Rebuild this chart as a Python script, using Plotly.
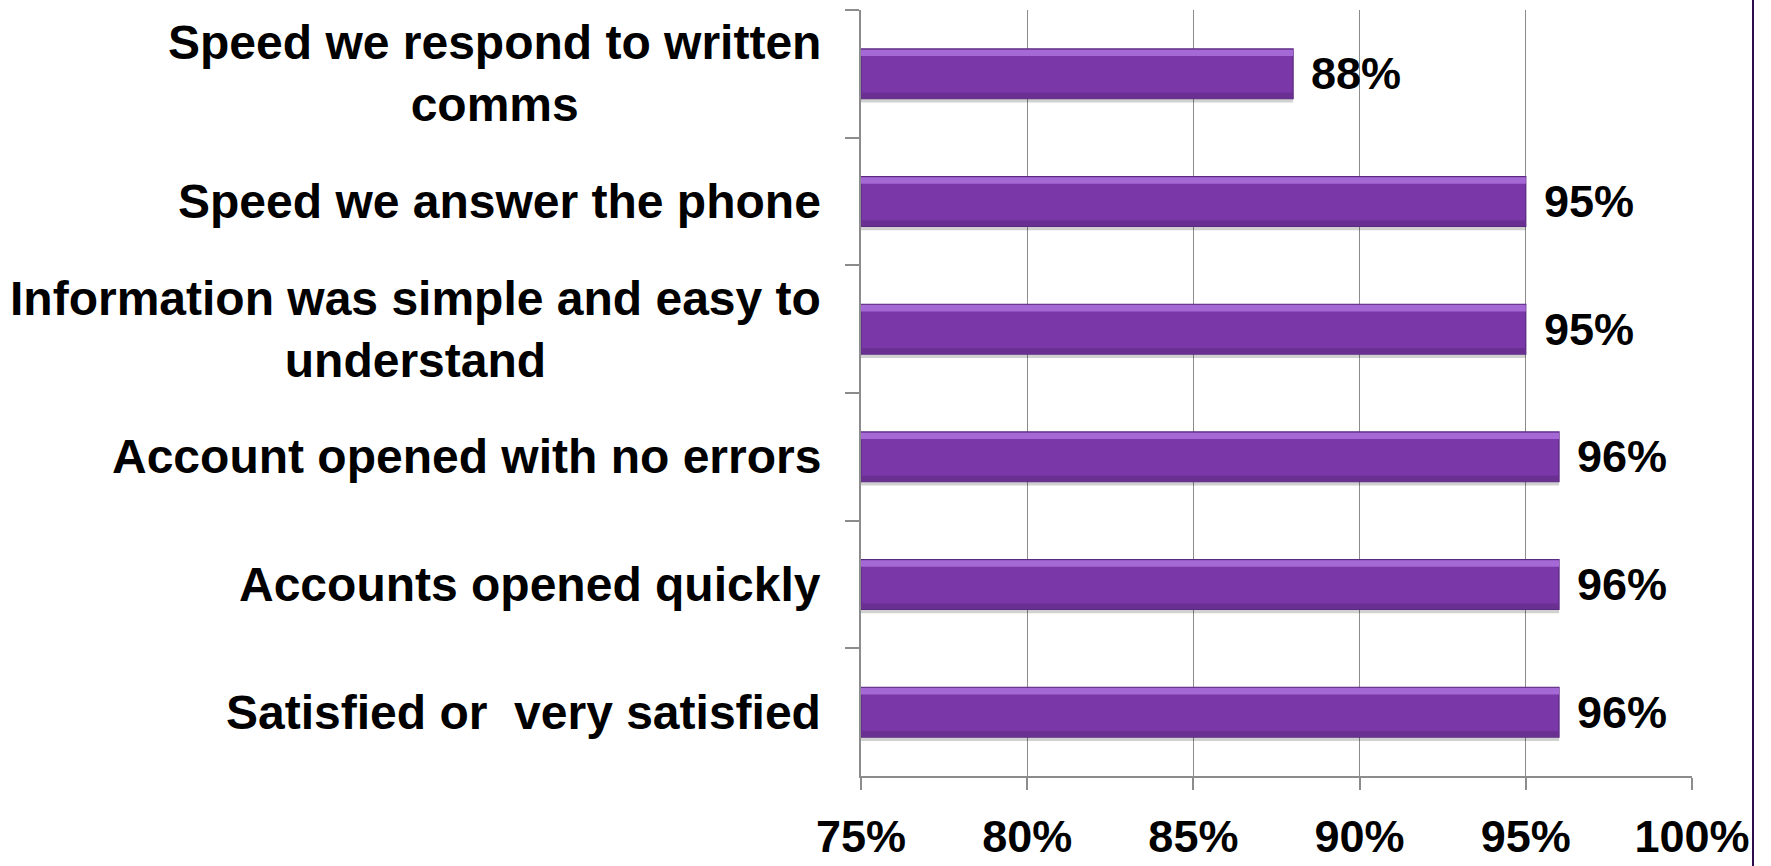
import plotly.graph_objects as go

categories = [
    "Speed we respond to written<br>comms",
    "Speed we answer the phone",
    "Information was simple and easy to<br>understand",
    "Account opened with no errors",
    "Accounts opened quickly",
    "Satisfied or  very satisfied",
]
values = [88, 95, 95, 96, 96, 96]
value_labels = ["88%", "95%", "95%", "96%", "96%", "96%"]
x_ticks = [75, 80, 85, 90, 95, 100]
x_tick_labels = ["75%", "80%", "85%", "90%", "95%", "100%"]
AXIS_MIN = 75

FONT = "Liberation Sans, Arial, Helvetica, sans-serif"
GRID = "#8C8C8C"
BAR_W = 0.39

lengths = [v - AXIS_MIN for v in values]

fig = go.Figure()
# soft shadow under each bar
fig.add_trace(go.Bar(
    y=categories, x=lengths, base=AXIS_MIN, orientation="h",
    width=BAR_W, offset=-BAR_W / 2 + 0.03,
    marker=dict(color="rgba(0,0,0,0.18)", line=dict(width=0)),
    hoverinfo="skip",
))
# main bar
fig.add_trace(go.Bar(
    y=categories, x=lengths, base=AXIS_MIN, orientation="h",
    width=BAR_W, offset=-BAR_W / 2,
    marker=dict(color="#7A37A7", line=dict(color="#5A2A80", width=1.2)),
    hoverinfo="skip",
))
# top bevel highlight
fig.add_trace(go.Bar(
    y=categories, x=lengths, base=AXIS_MIN, orientation="h",
    width=0.05, offset=-BAR_W / 2 + 0.006,
    marker=dict(color="#A469D4", line=dict(width=0)),
    hoverinfo="skip",
))
# bottom bevel shade
fig.add_trace(go.Bar(
    y=categories, x=lengths, base=AXIS_MIN, orientation="h",
    width=0.04, offset=BAR_W / 2 - 0.046,
    marker=dict(color="#692F91", line=dict(width=0)),
    hoverinfo="skip",
))

annotations = []
for c, v, t in zip(categories, values, value_labels):
    annotations.append(dict(
        x=v, y=c, xref="x", yref="y", text=t, showarrow=False,
        xanchor="left", yanchor="middle", xshift=16,
        font=dict(family=FONT, size=45, color="black", weight="bold"),
    ))
    annotations.append(dict(
        x=0, y=c, xref="paper", yref="y", text=c, showarrow=False,
        xanchor="right", yanchor="middle", xshift=-38, align="center",
        font=dict(family=FONT, size=48, color="black", weight="bold"),
    ))

fig.update_layout(
    width=1771, height=866,
    margin=dict(l=861, r=79, t=10, b=90, autoexpand=False),
    paper_bgcolor="white", plot_bgcolor="white",
    showlegend=False, barmode="overlay",
    annotations=annotations,
    shapes=[dict(type="line", xref="paper", yref="paper",
                 x0=(1753 - 861) / 831, x1=(1753 - 861) / 831,
                 y0=-1, y1=2, line=dict(color="#2E0C4C", width=2))],
)
fig.update_xaxes(
    range=[75, 100], tickvals=x_ticks, ticktext=x_tick_labels,
    showgrid=True, gridcolor=GRID, gridwidth=1,
    showline=True, linecolor=GRID, linewidth=1.5,
    ticks="outside", ticklen=12, tickcolor=GRID, tickwidth=1.5,
    tickfont=dict(family=FONT, size=45, color="black", weight="bold"),
    ticklabelstandoff=8, zeroline=False, automargin=False,
)
fig.update_yaxes(
    categoryorder="array", categoryarray=categories, autorange="reversed",
    showgrid=False, showline=True, linecolor=GRID, linewidth=1.5,
    ticks="outside", ticklen=14, tickcolor=GRID, tickwidth=1.5,
    tickson="boundaries", showticklabels=False, automargin=False,
)

fig.write_html("out.html")
